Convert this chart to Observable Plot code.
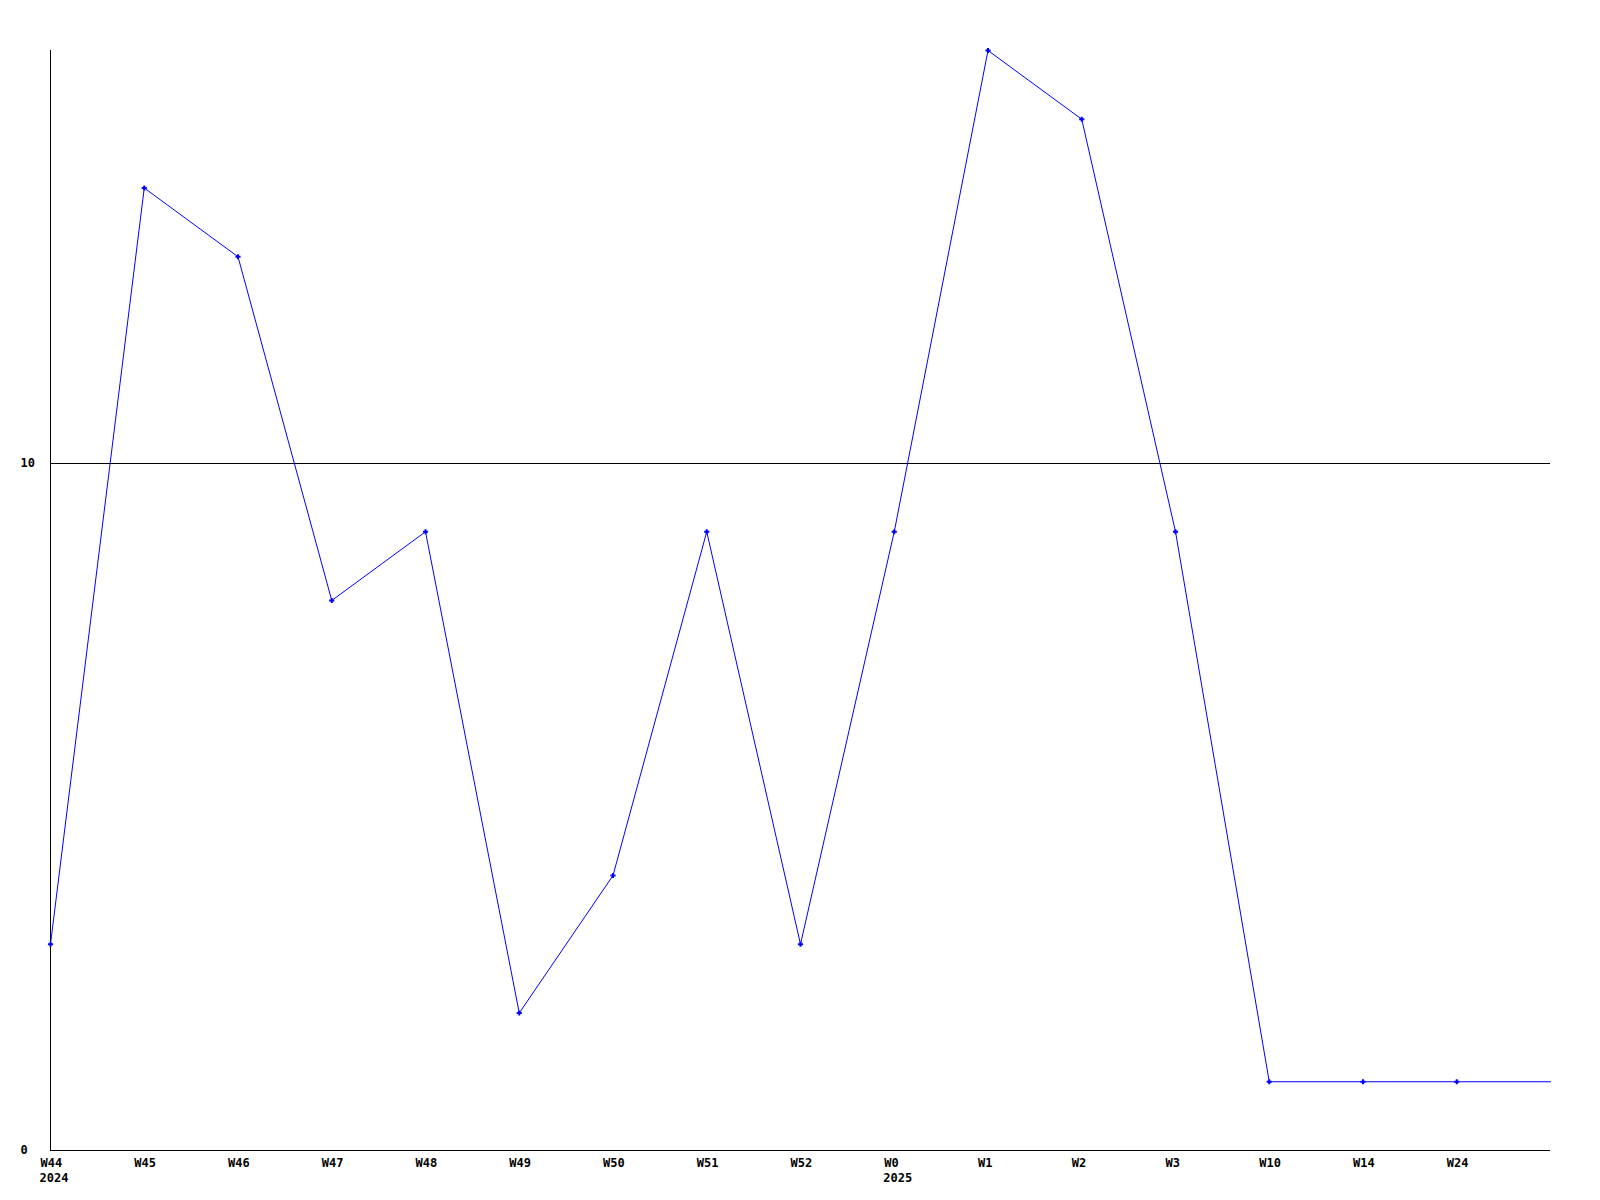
<!DOCTYPE html>
<html>
<head>
<meta charset="utf-8">
<script src="https://cdn.jsdelivr.net/npm/d3@7"></script>
<script src="https://cdn.jsdelivr.net/npm/@observablehq/plot@0.6"></script>
<style>
  html, body { margin: 0; padding: 0; background: #fff; }
  #chart svg { display: block; }
</style>
</head>
<body>
<div id="chart"></div>
<script>
const weeks = ["W44","W45","W46","W47","W48","W49","W50","W51","W52","W0","W1","W2","W3","W10","W14","W24"];
const years = ["2024","","","","","","","","","2025","","","","","",""];
const values = [3,14,13,8,9,2,4,9,3,9,16,15,9,1,1,1];
const yTicks = [0, 10];
const yMax = 16;

const pts = values.map((v, i) => ({i, v}));
// the series line is drawn on to the right edge at its last value
const linePts = [...pts, {i: weeks.length, v: values[values.length - 1]}];

const font = "'DejaVu Sans Mono', 'Liberation Mono', monospace";

const chart = Plot.plot({
  width: 1600,
  height: 1200,
  marginLeft: 50,
  marginRight: 50,
  marginTop: 50,
  marginBottom: 50,
  style: {fontFamily: font, fontSize: "12px", fontWeight: "bold", background: "#fff", color: "#000"},
  x: {type: "linear", domain: [0, weeks.length]},
  y: {domain: [0, yMax]},
  marks: [
    Plot.ruleY(yTicks.filter(d => d > 0), {stroke: "#000", strokeWidth: 1, shapeRendering: "crispEdges"}),
    Plot.ruleY([0], {stroke: "#000", strokeWidth: 1, shapeRendering: "crispEdges"}),
    Plot.ruleX([0], {stroke: "#000", strokeWidth: 1, shapeRendering: "crispEdges"}),
    Plot.lineY(linePts, {x: "i", y: "v", stroke: "#0000ff", strokeWidth: 1}),
    Plot.dot(pts, {x: "i", y: "v", r: 1.8, fill: "none", stroke: "#0000ff", strokeWidth: 2, symbol: "plus"}),
    Plot.axisX({
      ticks: d3.range(weeks.length),
      tickFormat: i => weeks[i],
      tickSize: 0,
      tickPadding: 8,
      textAnchor: "start",
      dx: -10,
      label: null,
      fontWeight: "bold"
    }),
    Plot.axisX({
      ticks: d3.range(weeks.length).filter(i => years[i]),
      tickFormat: i => years[i],
      tickSize: 0,
      tickPadding: 23,
      textAnchor: "start",
      dx: -11,
      label: null,
      fontWeight: "bold"
    }),
    Plot.axisY({
      ticks: yTicks,
      tickFormat: d => String(d),
      tickSize: 0,
      tickPadding: 3,
      textAnchor: "start",
      dx: -27,
      label: null,
      fontWeight: "bold"
    })
  ]
});
document.getElementById("chart").appendChild(chart);
</script>
</body>
</html>
